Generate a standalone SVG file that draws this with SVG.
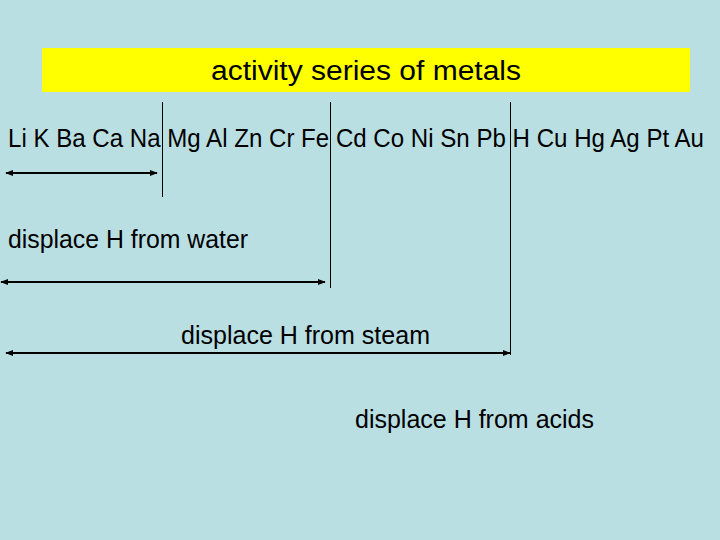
<svg xmlns="http://www.w3.org/2000/svg" width="720" height="540" viewBox="0 0 720 540">
<defs>
<marker id="ah" viewBox="0 0 10 10" refX="9" refY="5" markerWidth="4" markerHeight="4" orient="auto-start-reverse" markerUnits="strokeWidth"><path d="M0,1 L10,5 L0,9 z" fill="#000"/></marker>
<style>
.t{font-family:"Liberation Sans",Arial,sans-serif;font-size:25px;fill:#000}
.v{stroke:#000;stroke-width:1;fill:none}
.a{stroke:#000;stroke-width:2;fill:none;marker-start:url(#ah);marker-end:url(#ah)}
</style>
</defs>
<rect width="720" height="540" fill="#BADFE3"/>
<g id="title">
<rect x="42" y="48" width="648" height="44" fill="#FFFF00"/>
<text class="t" x="366" y="80" text-anchor="middle" style="font-size:27px" textLength="310" lengthAdjust="spacingAndGlyphs">activity series of metals</text>
</g>
<g id="series">
<text class="t" x="8" y="147" textLength="696" lengthAdjust="spacingAndGlyphs">Li K Ba Ca Na Mg Al Zn Cr Fe Cd Co Ni Sn Pb H Cu Hg Ag Pt Au</text>
</g>
<g id="labels">
<text class="t" x="8" y="248" textLength="240" lengthAdjust="spacingAndGlyphs">displace H from water</text>
<text class="t" x="181" y="344" textLength="249" lengthAdjust="spacingAndGlyphs">displace H from steam</text>
<text class="t" x="355" y="428" textLength="239" lengthAdjust="spacingAndGlyphs">displace H from acids</text>
</g>
<g id="connectors">
<line class="v" x1="162.5" y1="102" x2="162.5" y2="197"/>
<line class="v" x1="330.5" y1="102" x2="330.5" y2="288"/>
<line class="v" x1="510.5" y1="102" x2="510.5" y2="355"/>
<line class="a" x1="6" y1="173" x2="157" y2="173"/>
<line class="a" x1="1" y1="282" x2="325" y2="282"/>
<line class="a" x1="6" y1="353" x2="510" y2="353"/>
</g>
</svg>
